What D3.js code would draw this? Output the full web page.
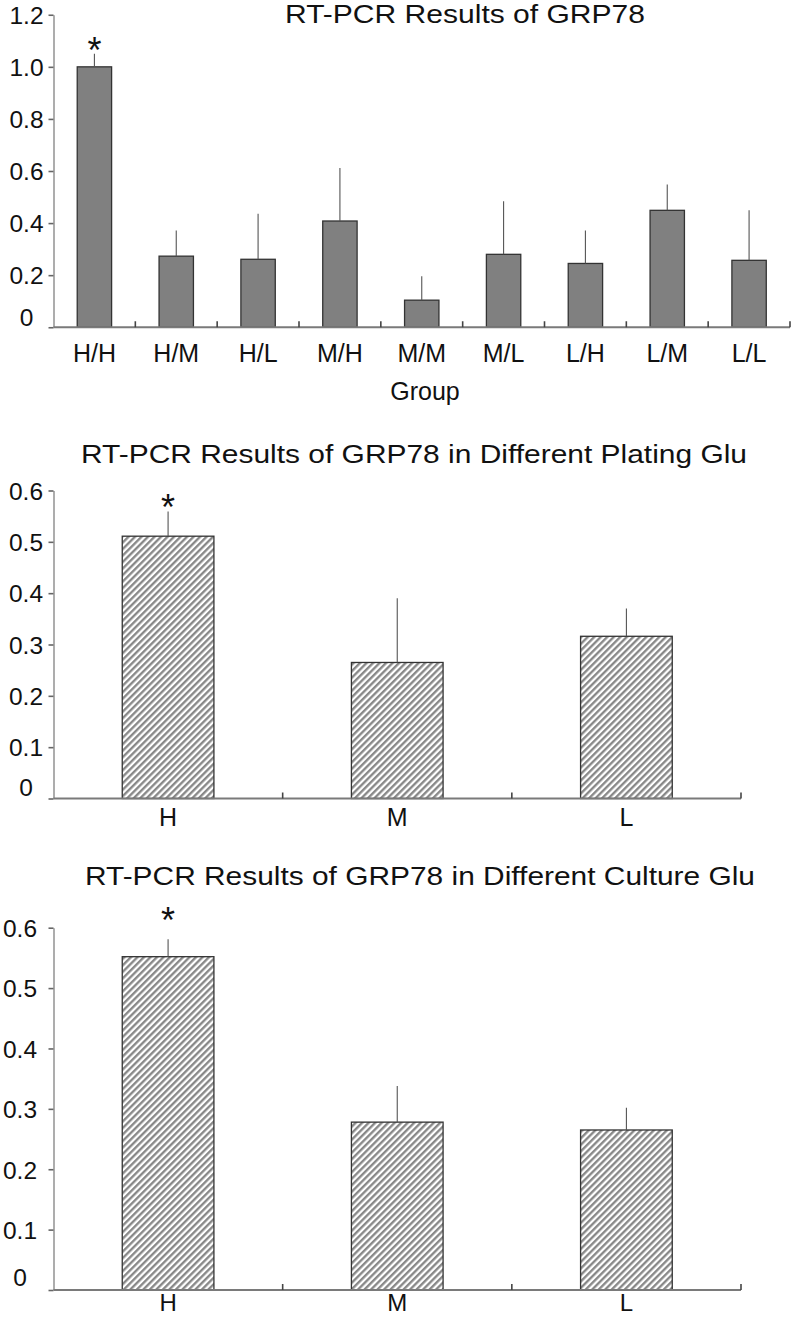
<!DOCTYPE html>
<html><head><meta charset="utf-8">
<script src="https://cdn.jsdelivr.net/npm/d3@7"></script>
<style>
body{margin:0;background:#fff}
svg{display:block}
text{font-family:"Liberation Sans",Arial,Helvetica,sans-serif;fill:#111}
</style>
</head><body>
<svg id="c" width="793" height="1317"></svg>
<script>
// ---- data ----
const groups1 = ["H/H","H/M","H/L","M/H","M/M","M/L","L/H","L/M","L/L"];
const means1  = [1.0, 0.273, 0.261, 0.408, 0.104, 0.280, 0.245, 0.449, 0.257];
const errs1   = [0.05, 0.099, 0.175, 0.204, 0.092, 0.204, 0.127, 0.099, 0.192];
const ticks1  = [0, 0.2, 0.4, 0.6, 0.8, 1.0, 1.2];
const tickLabels1 = ["0","0.2","0.4","0.6","0.8","1.0","1.2"];

const levels = ["H","M","L"];
const meansPlating = [0.511, 0.265, 0.316];
const errsPlating  = [0.048, 0.125, 0.054];
const meansCulture = [0.552, 0.278, 0.265];
const errsCulture  = [0.029, 0.060, 0.037];
const ticks2 = [0, 0.1, 0.2, 0.3, 0.4, 0.5, 0.6];
const tickLabels2 = ["0","0.1","0.2","0.3","0.4","0.5","0.6"];

const titles = ["RT-PCR Results of GRP78",
                "RT-PCR Results of GRP78 in Different Plating Glu",
                "RT-PCR Results of GRP78 in Different Culture Glu"];
const xTitle1 = "Group";
const starIndex = 0;

// ---- drawing ----
const svg = d3.select("#c");
const defs = svg.append("defs");
const pat = defs.append("pattern").attr("id","hatch")
  .attr("patternUnits","userSpaceOnUse").attr("width",4.6).attr("height",10)
  .attr("patternTransform","rotate(45)");
pat.append("rect").attr("width",4.6).attr("height",10).attr("fill","#fff");
pat.append("line").attr("x1",1.2).attr("x2",1.2).attr("y1",0).attr("y2",10)
  .attr("stroke","#858585").attr("stroke-width",2.3);

function drawChart(o){
  const g = svg.append("g");
  const x = d3.scaleBand().domain(o.cats).range(o.xRange)
    .paddingInner(o.padInner).paddingOuter(o.padInner/2);
  const y = d3.scaleLinear().domain(o.domain).range(o.yRange);
  const x0 = o.xRange[0];

  // title
  g.append("text").attr("x",o.title.x).attr("y",o.title.y)
    .attr("font-size",25).attr("textLength",o.title.len)
    .attr("lengthAdjust","spacingAndGlyphs").text(o.title.text);

  // y axis
  const yAxis = d3.axisLeft(y).tickValues(o.ticks)
    .tickFormat((d,i)=>o.tickLabels[i]).tickSize(5).tickSizeOuter(0);
  const ga = g.append("g").attr("transform",`translate(${x0},0)`).call(yAxis)
    .attr("font-family",null).attr("font-size",null);
  ga.select(".domain").attr("stroke","#8a8a8a").attr("stroke-width",1.4);
  ga.selectAll(".tick line").attr("stroke","#666").attr("stroke-width",1.6);
  ga.selectAll(".tick text").attr("font-size",24.5).attr("text-anchor","middle")
    .attr("x",o.yLabelX - x0).attr("dy","0.36em").attr("fill","#111")
    .style("font-family",'"Liberation Sans",Arial,sans-serif');
  ga.selectAll(".tick text").filter(d=>d===0).attr("y",-o.zeroShift);

  // bars
  g.selectAll("rect.bar").data(o.cats).join("rect").attr("class","bar")
    .attr("x",d=>x(d)).attr("width",x.bandwidth())
    .attr("y",(d,i)=>y(o.means[i]))
    .attr("height",(d,i)=>y(0)-y(o.means[i]))
    .attr("fill",o.fill).attr("stroke","#333").attr("stroke-width",1.3);

  // error bars (upper only)
  g.selectAll("line.err").data(o.cats).join("line").attr("class","err")
    .attr("x1",d=>x(d)+x.bandwidth()/2).attr("x2",d=>x(d)+x.bandwidth()/2)
    .attr("y1",(d,i)=>y(o.means[i])).attr("y2",(d,i)=>y(o.means[i]+o.errs[i]))
    .attr("stroke","#555").attr("stroke-width",1.1);

  // x axis line
  g.append("line").attr("x1",x0).attr("x2",o.xRange[1])
    .attr("y1",y(0)).attr("y2",y(0)).attr("stroke","#7a7a7a").attr("stroke-width",2.2);
  // category boundary ticks (upward)
  const step = x.step();
  g.selectAll("line.bt").data(o.cats).join("line").attr("class","bt")
    .attr("x1",d=>x(d)+x.bandwidth()+step*o.padInner/2)
    .attr("x2",d=>x(d)+x.bandwidth()+step*o.padInner/2)
    .attr("y1",y(0)).attr("y2",y(0)-6).attr("stroke","#444").attr("stroke-width",1.6);

  // x labels
  const xa = g.append("g").attr("transform",`translate(0,${y(0)})`)
    .call(d3.axisBottom(x).tickSize(0).tickPadding(o.labelPad))
    .attr("font-family",null).attr("font-size",null);
  xa.select(".domain").remove();
  xa.selectAll(".tick text").attr("font-size",o.labelSize).attr("fill","#111")
    .style("font-family",'"Liberation Sans",Arial,sans-serif');

  if (o.xTitle){
    g.append("text").attr("x",o.xTitle.x).attr("y",o.xTitle.y)
      .attr("text-anchor","middle").attr("font-size",25).text(o.xTitle.text);
  }

  // significance star
  const si = o.star;
  g.append("text").attr("x",x(o.cats[si])+x.bandwidth()/2)
    .attr("y",y(o.means[si]+o.errs[si]) - o.starGap)
    .attr("text-anchor","middle").attr("font-size",36).text("*");
}

drawChart({
  cats:groups1, means:means1, errs:errs1, ticks:ticks1, tickLabels:tickLabels1,
  domain:[0,1.2], yRange:[327.25,14.75], xRange:[53.5,790], padInner:0.58,
  fill:"#808080", yLabelX:26.5, zeroShift:11, labelPad:17, labelSize:25,
  title:{text:titles[0], x:285, y:23, len:360},
  xTitle:{text:xTitle1, x:425, y:400},
  star:starIndex, starGap:-9
});
drawChart({
  cats:levels, means:meansPlating, errs:errsPlating, ticks:ticks2, tickLabels:tickLabels2,
  domain:[0,0.6], yRange:[798.5,490.5], xRange:[53.5,741], padInner:0.6,
  fill:"url(#hatch)", yLabelX:26, zeroShift:12, labelPad:10, labelSize:25,
  title:{text:titles[1], x:81, y:463, len:666},
  star:starIndex, starGap:-8
});
drawChart({
  cats:levels, means:meansCulture, errs:errsCulture, ticks:ticks2, tickLabels:tickLabels2,
  domain:[0,0.6], yRange:[1290,927.7], xRange:[53.5,741], padInner:0.6,
  fill:"url(#hatch)", yLabelX:20, zeroShift:13, labelPad:3.5, labelSize:24,
  title:{text:titles[2], x:85, y:885, len:670},
  star:starIndex, starGap:6
});
</script>
</body></html>
